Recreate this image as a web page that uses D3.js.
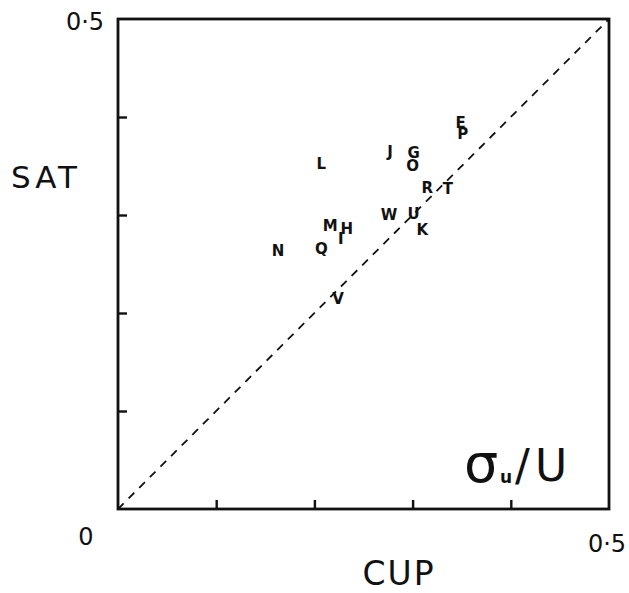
<!DOCTYPE html>
<html>
<head>
<meta charset="utf-8">
<script src="https://cdn.jsdelivr.net/npm/d3@7/dist/d3.min.js"></script>
<style>
  html, body { margin: 0; padding: 0; background: #fff; }
  svg { display: block; }
  text { font-family: "DejaVu Sans", sans-serif; fill: #111; }
</style>
</head>
<body>
<svg id="chart" width="629" height="593"></svg>
<script>
// Site labels and turbulence intensity sigma_u/U from the two instruments
const sites = ["E", "P", "J", "G", "O", "L", "R", "T", "W", "U", "K", "M", "H", "I", "N", "Q", "V"];
const cupValues = [0.349, 0.351, 0.277, 0.301, 0.300, 0.207, 0.315, 0.336, 0.276, 0.301, 0.310, 0.216, 0.233, 0.227, 0.163, 0.207, 0.224];
const satValues = [0.394, 0.383, 0.364, 0.363, 0.350, 0.352, 0.328, 0.327, 0.300, 0.301, 0.285, 0.289, 0.286, 0.276, 0.263, 0.265, 0.214];
const tickValues = [0.1, 0.2, 0.3, 0.4];
const axisDomain = [0, 0.5];

const svg = d3.select("#chart");
const plot = { left: 118, right: 609, top: 19, bottom: 509 };

const x = d3.scaleLinear().domain(axisDomain).range([plot.left, plot.right]);
const y = d3.scaleLinear().domain(axisDomain).range([plot.bottom, plot.top]);

// 1:1 reference line
svg.append("line")
  .attr("x1", x(0)).attr("y1", y(0))
  .attr("x2", x(0.5)).attr("y2", y(0.5))
  .attr("stroke", "#111").attr("stroke-width", 1.8)
  .attr("stroke-dasharray", "8,7");

// Inward ticks on bottom and left axes
const xAxis = d3.axisBottom(x).tickValues(tickValues).tickSize(-9).tickFormat("");
const yAxis = d3.axisLeft(y).tickValues(tickValues).tickSize(-9).tickFormat("");

svg.append("g").attr("transform", `translate(0,${plot.bottom})`).call(xAxis)
  .call(g => g.select(".domain").remove())
  .call(g => g.selectAll("line").attr("stroke", "#111").attr("stroke-width", 2.4));
svg.append("g").attr("transform", `translate(${plot.left},0)`).call(yAxis)
  .call(g => g.select(".domain").remove())
  .call(g => g.selectAll("line").attr("stroke", "#111").attr("stroke-width", 2.4));

// Frame
svg.append("rect")
  .attr("x", x(0)).attr("y", y(0.5))
  .attr("width", x(0.5) - x(0)).attr("height", y(0) - y(0.5))
  .attr("fill", "none").attr("stroke", "#111").attr("stroke-width", 2.8);

// Site letters
svg.append("g").selectAll("text")
  .data(sites)
  .join("text")
  .attr("x", (d, i) => x(cupValues[i]))
  .attr("y", (d, i) => y(satValues[i]))
  .attr("text-anchor", "middle")
  .attr("dominant-baseline", "central")
  .attr("font-size", 15)
  .attr("font-weight", "bold")
  .text(d => d);

// Axis end labels
const endLabel = (px, py, txt) => svg.append("text")
  .attr("x", px).attr("y", py).attr("text-anchor", "middle")
  .attr("font-family", "'Liberation Sans', Arial, sans-serif")
  .attr("font-size", 24).text(txt);
endLabel(85, 30, "0·5");
endLabel(86, 545, "0");
endLabel(607, 552, "0·5");

// Axis titles
svg.append("text").attr("x", 46).attr("y", 188).attr("text-anchor", "middle")
  .attr("font-size", 31).attr("letter-spacing", 4).text("SAT");
svg.append("text").attr("x", 399).attr("y", 585).attr("text-anchor", "middle")
  .attr("font-size", 33).attr("letter-spacing", 2).text("CUP");

// Quantity label: sigma_u / U
const q = svg.append("g").attr("font-family", "'Liberation Sans', Arial, sans-serif");
q.append("text").attr("x", 464).attr("y", 482).attr("font-size", 54).text("σ");
q.append("text").attr("x", 500).attr("y", 483).attr("font-size", 17).attr("font-weight", "bold").text("u");
q.append("text").attr("x", 515).attr("y", 481).attr("font-size", 44).text("/");
q.append("text").attr("x", 535).attr("y", 481).attr("font-size", 44).text("U");
</script>
</body>
</html>
